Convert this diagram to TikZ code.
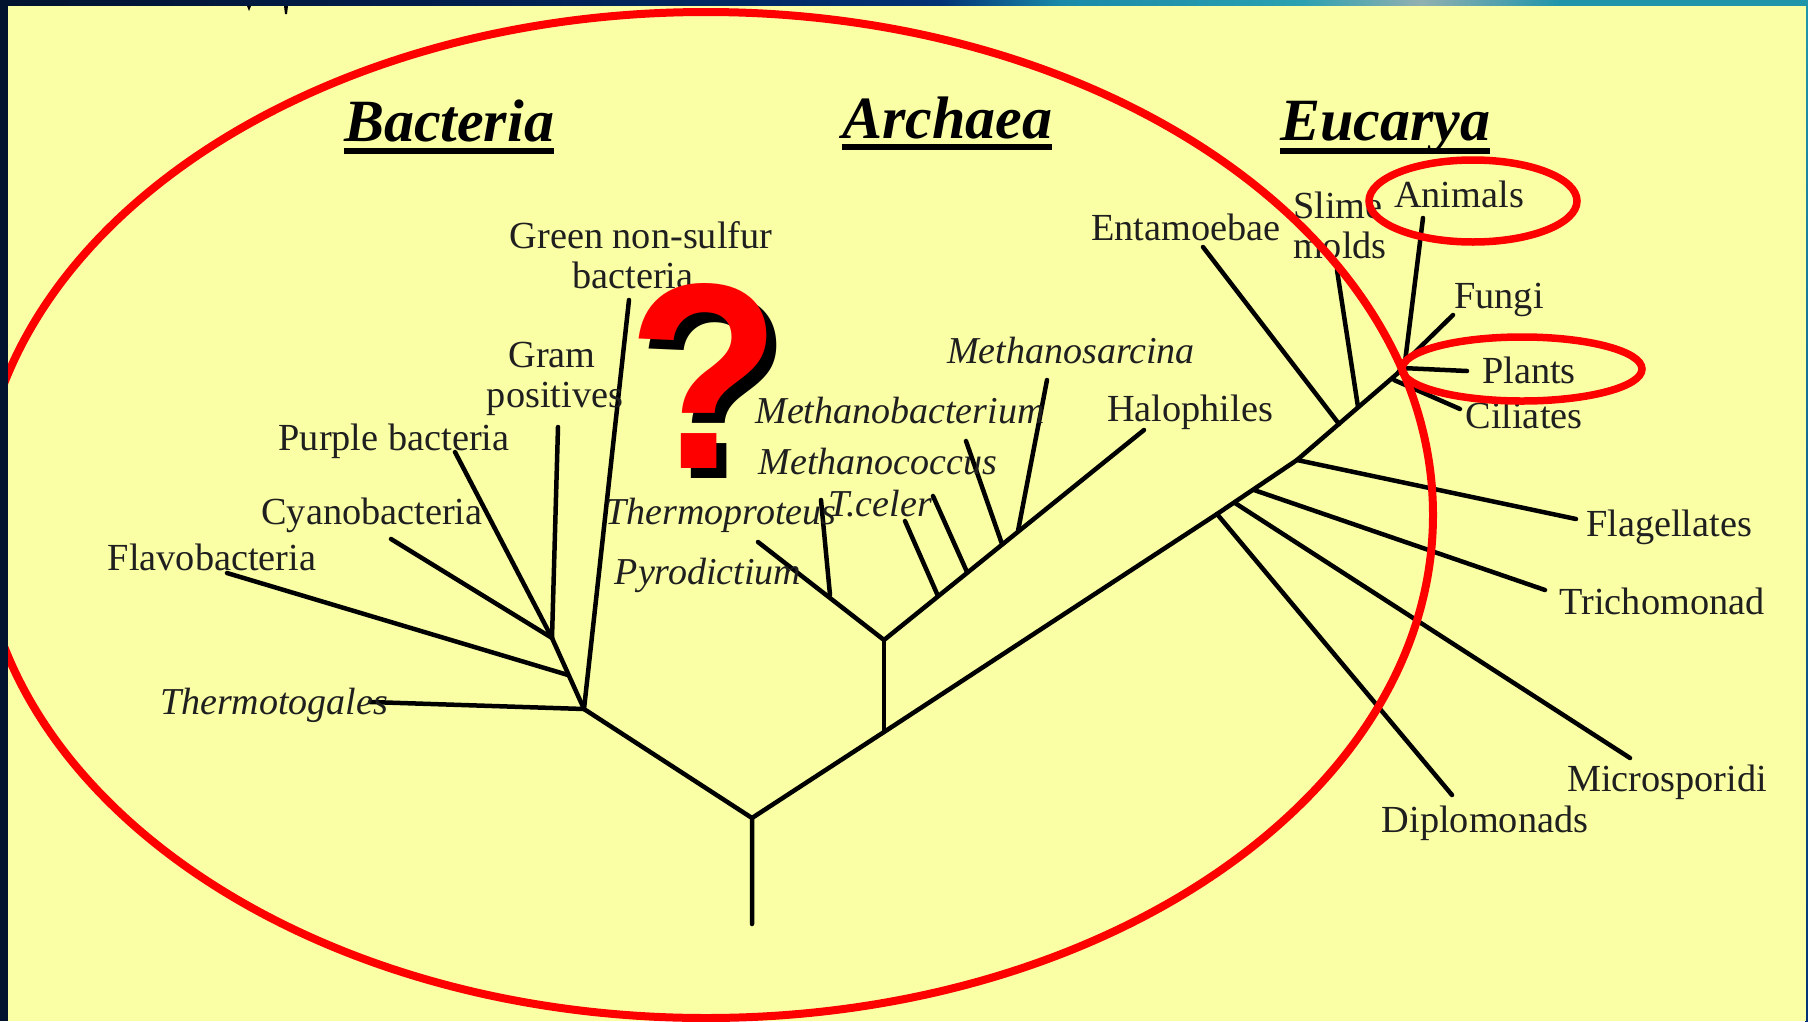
\documentclass[tikz,border=0pt]{standalone}
\usepackage{fontspec}
\setmainfont{Liberation Serif}
\newfontfamily\qfont{Liberation Sans}
\definecolor{pagey}{RGB}{250,255,165}
\definecolor{navya}{HTML}{01132F}
\definecolor{navyb}{HTML}{012050}
\definecolor{navyc}{HTML}{013275}
\definecolor{teala}{HTML}{1A8AA8}
\definecolor{tealb}{HTML}{2AA0B0}
\definecolor{greyb}{HTML}{92B0B0}
\definecolor{tealc}{HTML}{2095AA}
\definecolor{ringred}{RGB}{255,0,0}
\tikzset{
  x=1pt,y=-1pt,
  lab/.style={anchor=base,inner sep=0pt,yshift=-1pt,font=\fontsize{38.3}{38.3}\selectfont,text=black!88},
  itlab/.style={lab,font=\fontsize{38}{38}\selectfont\itshape},
  head/.style={anchor=base,inner sep=0pt,font=\fontsize{60}{60}\selectfont\bfseries\itshape,text=black},
  headrule/.style={line width=5.5pt,black},
  branch/.style={line width=4.5pt,black,line cap=round},
  ring/.style={draw=ringred,line width=7.5pt},
  bigring/.style={draw=ringred,line width=8pt},
  qmark/.style={anchor=base,inner sep=0pt,font=\fontsize{265}{265}\selectfont\qfont\bfseries},
}
\begin{document}
\begin{tikzpicture}
\useasboundingbox (0,0) rectangle (1808,1021);
% slide frame
\fill[navya] (0,0) rectangle (1808,1021);
\shade[left color=navya,right color=navyb] (0,0) rectangle (501,7);
\shade[left color=navyb,right color=navyc] (500,0) rectangle (941,7);
\shade[left color=navyc,right color=teala] (940,0) rectangle (1061,7);
\shade[left color=teala,right color=tealb] (1060,0) rectangle (1301,7);
\shade[left color=tealb,right color=greyb] (1300,0) rectangle (1421,7);
\shade[left color=greyb,right color=tealc] (1420,0) rectangle (1560,7);
\fill[tealc] (1559,0) rectangle (1808,7);
\shade[top color=tealc,bottom color=navyc] (1805,7) rectangle (1808,1021);
\fill[pagey] (8,6) rectangle (1806,1021);
% slivers of cut-off text at the top edge
\fill[black] (247,6) -- (251,6) -- (249,11) -- cycle;
\fill[black] (284,6) -- (288,6) -- (287,14) -- (285,14) -- cycle;

% tree junctions
\coordinate (root) at (752,924);
\coordinate (rj) at (752,818);
\coordinate (bj) at (584,709);
\coordinate (aj) at (884,732);
\coordinate (aj2) at (884,640);
\coordinate (dj) at (1217,514);
\coordinate (mj) at (1235,503);
\coordinate (tj) at (1254,490);
\coordinate (fj) at (1297,460);
\coordinate (ej) at (1339,424);
\coordinate (sj) at (1358,407);
\coordinate (top) at (1398,373);
\coordinate (b2) at (568,675);
\coordinate (b3) at (552,638);
\coordinate (a1) at (830,595);
\coordinate (a3) at (938,596);
\coordinate (a4) at (967,572);
\coordinate (a5) at (1002,544);
\coordinate (a6) at (1018,531);
% branch tips
\coordinate (tThermotogales) at (370,702);
\coordinate (tFlavo) at (227,573);
\coordinate (tCyano) at (391,539);
\coordinate (tPurple) at (455,452);
\coordinate (tGram) at (558,427);
\coordinate (tGreen) at (629,300);
\coordinate (tPyro) at (758,542);
\coordinate (tTproteus) at (821,500);
\coordinate (tCeler1) at (905,521);
\coordinate (tCeler2) at (933,496);
\coordinate (tMcoccus) at (966,441);
\coordinate (tMsarc) at (1047,380);
\coordinate (tHalo) at (1144,430);
\coordinate (tEnt) at (1203,247);
\coordinate (tSlime) at (1337,270);
\coordinate (tAnimals) at (1423,218);
\coordinate (tFungi) at (1453,315);
\coordinate (tPlants) at (1467,371);
\coordinate (tCiliates) at (1460,409);
\coordinate (tFlag) at (1576,519);
\coordinate (tTrich) at (1545,590);
\coordinate (tMicro) at (1630,758);
\coordinate (tDiplo) at (1452,795);
\coordinate (jAnimals) at (1405,362);
\coordinate (jFungi) at (1405,362);
\coordinate (jPlants) at (1402,368);
\coordinate (jCiliates) at (1394,380);

% trunk and branches
\draw[branch] (root) -- (rj) -- (bj);
\draw[branch] (rj) -- (aj) -- (dj) -- (fj) -- (top);
\draw[branch] (top) -- (jAnimals);
\draw[branch] (aj) -- (aj2);
\draw[branch] (aj2) -- (tPyro);
\draw[branch] (aj2) -- (tHalo);
\draw[branch] (a1) -- (tTproteus);
\draw[branch] (a3) -- (tCeler1);
\draw[branch] (a4) -- (tCeler2);
\draw[branch] (a5) -- (tMcoccus);
\draw[branch] (a6) -- (tMsarc);
\draw[branch] (bj) -- (b3);
\draw[branch] (bj) -- (tThermotogales);
\draw[branch] (bj) -- (tGreen);
\draw[branch] (b2) -- (tFlavo);
\draw[branch] (b3) -- (tCyano);
\draw[branch] (b3) -- (tPurple);
\draw[branch] (b3) -- (tGram);
\draw[branch] (ej) -- (tEnt);
\draw[branch] (sj) -- (tSlime);
\draw[branch] (jAnimals) -- (tAnimals);
\draw[branch] (jFungi) -- (tFungi);
\draw[branch] (jPlants) -- (tPlants);
\draw[branch] (jCiliates) -- (tCiliates);
\draw[branch] (fj) -- (tFlag);
\draw[branch] (tj) -- (tTrich);
\draw[branch] (mj) -- (tMicro);
\draw[branch] (dj) -- (tDiplo);

% headings
\node[head] (hBac) at (449,141) {Bacteria};
\node[head] (hArc) at (947,138) {Archaea};
\node[head] (hEuc) at (1385,140) {Eucarya};
\draw[headrule] ([yshift=-10pt]hBac.base west) -- ([yshift=-10pt]hBac.base east);
\draw[headrule] ([yshift=-9pt]hArc.base west) -- ([yshift=-9pt]hArc.base east);
\draw[headrule] ([yshift=-11pt]hEuc.base west) -- ([yshift=-11pt]hEuc.base east);

% labels
\node[lab] (lGreenA) at (641,247) {Green non-sulfur};
\node[lab] (lGreenB) at (633,287) {bacteria};
\node[lab] (lGramA) at (552,366) {Gram};
\node[lab] (lGramB) at (555,406) {positives};
\node[lab] (lPurple) at (394,449) {Purple bacteria};
\node[lab] (lCyano) at (372,523) {Cyanobacteria};
\node[lab] (lFlavo) at (212,569) {Flavobacteria};
\node[itlab] (lThermotogales) at (274,713) {Thermotogales};
\node[itlab] (lTproteus) at (721,523) {Thermoproteus};
\node[itlab] (lPyro) at (708,583) {Pyrodictium};
\node[itlab] (lCeler) at (880,515) {T.celer};
\node[itlab] (lMcoccus) at (878,473) {Methanococcus};
\node[itlab] (lMbact) at (900,422) {Methanobacterium};
\node[itlab] (lMsarc) at (1071,362) {Methanosarcina};
\node[lab] (lHalo) at (1190,420) {Halophiles};
\node[lab] (lEnt) at (1186,239) {Entamoebae};
\node[lab] (lSlimeA) at (1338,217) {Slime};
\node[lab] (lSlimeB) at (1340,257) {molds};
\node[lab] (lAnimals) at (1459,206) {Animals};
\node[lab] (lFungi) at (1499,307) {Fungi};
\node[lab] (lPlants) at (1529,382) {Plants};
\node[lab] (lCiliates) at (1524,427) {Ciliates};
\node[lab] (lFlag) at (1669,535) {Flagellates};
\node[lab] (lTrich) at (1662,613) {Trichomonad};
\node[lab] (lMicro) at (1667,790) {Microsporidi};
\node[lab] (lDiplo) at (1485,831) {Diplomonads};

% question mark
\node[qmark,text=black] (qs) at (714,478) {\scalebox{.95}[1]{?}};
\node[qmark,text=ringred] (q) at (704,468) {\scalebox{.95}[1]{?}};

% rings
\draw[ring] (1473,201) ellipse [x radius=104,y radius=41];
\draw[ring] (1522,369) ellipse [x radius=120,y radius=32];
\begin{scope}
\clip (8,6) rectangle (1806,1021);
\draw[bigring] (706,515) ellipse [x radius=727,y radius=503];
\end{scope}
\end{tikzpicture}
\end{document}
